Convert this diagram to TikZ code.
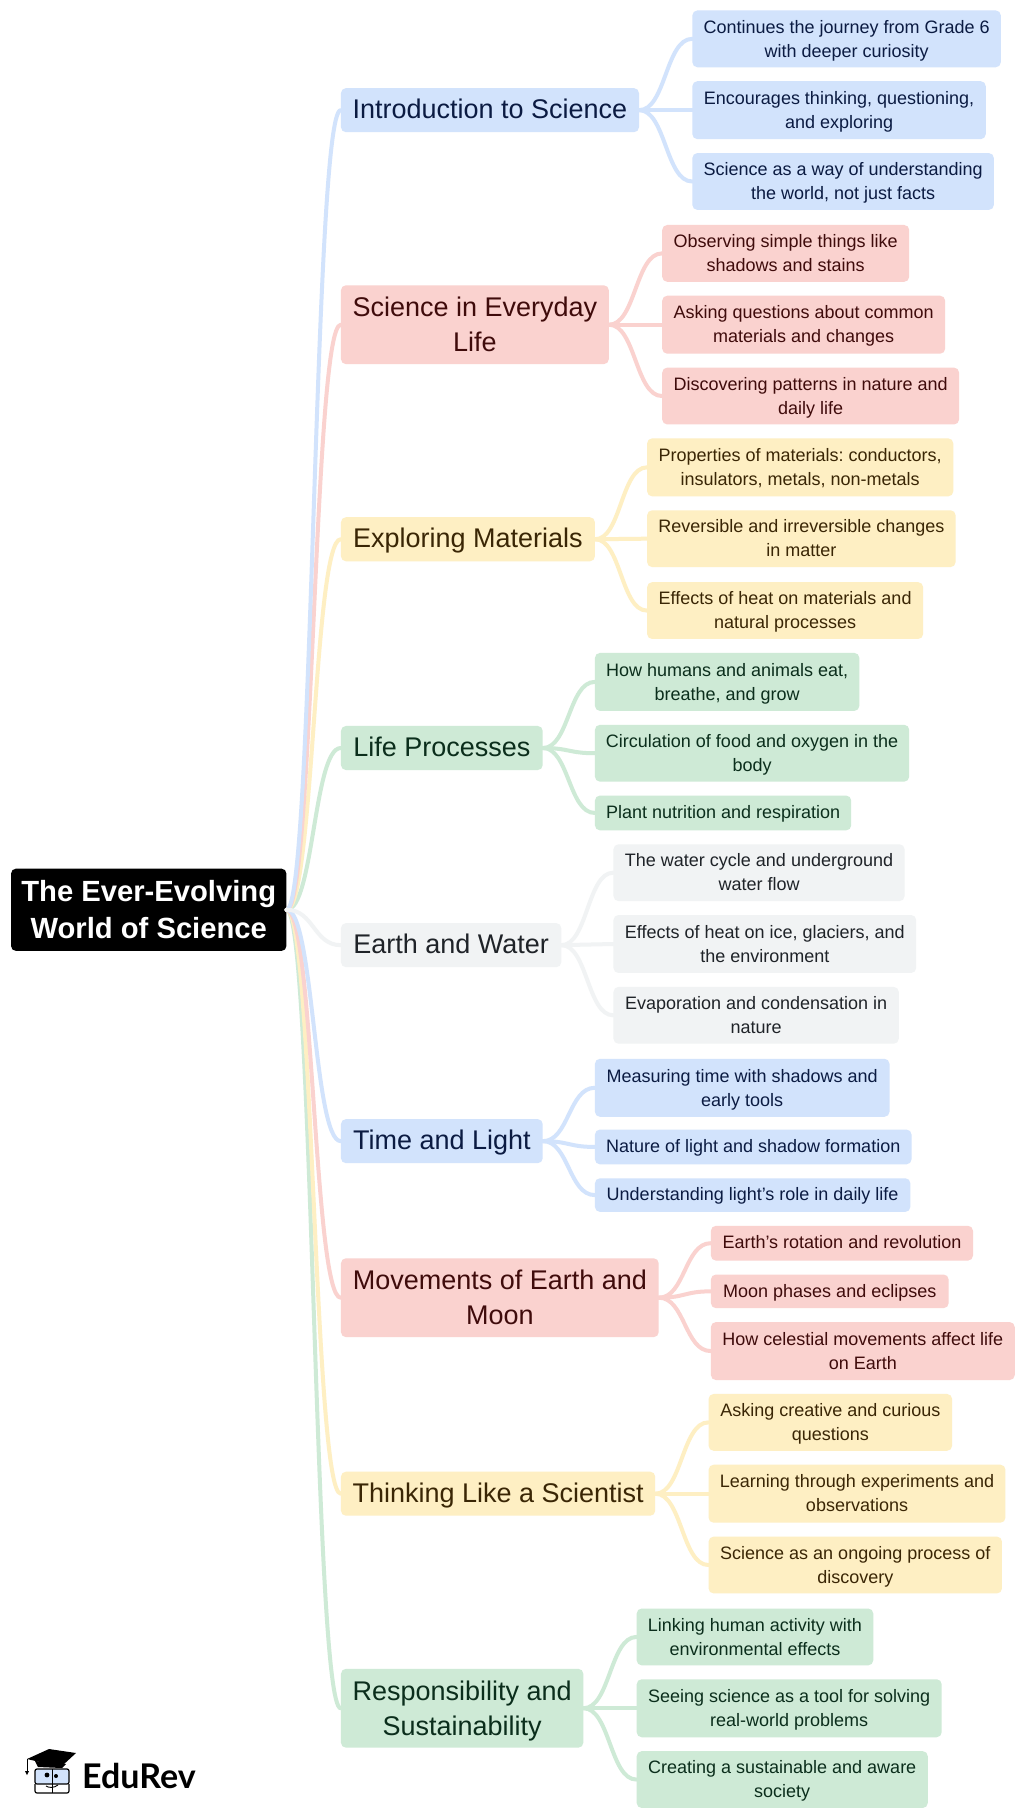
\documentclass[tikz,border=0pt]{standalone}
\usepackage{fontspec}
\setmainfont{Liberation Sans}
\newfontfamily\logofont{Lato}
\usetikzlibrary{calc}
\definecolor{bluebg}{HTML}{D2E3FC}
\definecolor{redbg}{HTML}{FAD2CF}
\definecolor{yelbg}{HTML}{FEEFC3}
\definecolor{grnbg}{HTML}{CEEAD6}
\definecolor{graybg}{HTML}{F1F3F4}
\definecolor{bluetx}{HTML}{0B1B42}
\definecolor{redtx}{HTML}{3F0B0B}
\definecolor{yeltx}{HTML}{3A2605}
\definecolor{grntx}{HTML}{0B2E1C}
\definecolor{graytx}{HTML}{1F2328}
\tikzset{
  card/.style={rectangle,rounded corners=5pt,inner sep=0pt,align=center,anchor=center,
    execute at begin node={\frenchspacing\rule{0pt}{.94em}},
    execute at end node={\rule[-.30em]{0pt}{.30em}}},
  two/.style={execute at begin node={\rule{0pt}{\dimexpr.94em+\baselineskip+.05em\relax}}},
  rootbox/.style={card,two,fill=black,text=white,font=\fontsize{29.2}{37}\selectfont\bfseries},
  branchtx/.style={font=\fontsize{27}{35}\selectfont},
  leaftx/.style={font=\fontsize{18}{24}\selectfont},
  blue/.style={card,fill=bluebg,text=bluetx},
  red/.style={card,fill=redbg,text=redtx},
  yel/.style={card,fill=yelbg,text=yeltx},
  grn/.style={card,fill=grnbg,text=grntx},
  gry/.style={card,fill=graybg,text=graytx},
  link/.style={line width=4pt,line cap=round},
}
% #1 name, #2 style, #3 x0, #4 x1, #5 y0, #6 y1 (in units of the shrunk view), #7 text
\newcommand\cardnode[7]{\node[#2,minimum width={(#4-#3)*1.1597pt},minimum height={(#6-#5)*1.1597pt}] (#1) at ({(#3+#4)/2*1.1597},{(#5+#6)/2*1.1597}) {#7};}
\newcommand\linkit[3]{\draw[link,#1] let \p1=(#2.east),\p2=(#3.west) in (\p1) .. controls ({(\x1+\x2)/2},\y1) and ({(\x1+\x2)/2},\y2) .. (\p2);}
\begin{document}
\begin{tikzpicture}[x=1pt,y=-1pt]
\useasboundingbox (0,0) rectangle (1024,1819);
\fill[white] (0,0) rectangle (1024,1819);
\cardnode{root}{rootbox}{9.5}{247}{749}{820}{The Ever-Evolving\\World of Science}
% branches
\cardnode{b1}{blue,branchtx}{294}{551}{76}{114}{Introduction to Science}
\cardnode{b2}{red,two,branchtx}{294}{525}{246}{314}{Science in Everyday\\Life}
\cardnode{b3}{yel,branchtx}{294}{513}{446}{484}{Exploring Materials}
\cardnode{b4}{grn,branchtx}{294}{468}{626}{664}{Life Processes}
\cardnode{b5}{gry,branchtx}{294}{484}{796}{834}{Earth and Water}
\cardnode{b6}{blue,branchtx}{294}{468}{965}{1003}{Time and Light}
\cardnode{b7}{red,two,branchtx}{294}{568}{1085}{1153}{Movements of Earth and\\Moon}
\cardnode{b8}{yel,branchtx}{294}{565}{1269}{1307}{Thinking Like a Scientist}
\cardnode{b9}{grn,two,branchtx}{294}{503}{1439}{1507}{Responsibility and\\Sustainability}
% leaves
\cardnode{l11}{blue,two,leaftx}{597}{863}{9}{58}{Continues the journey from Grade 6\\with deeper curiosity}
\cardnode{l12}{blue,two,leaftx}{597}{850}{70}{120}{Encourages thinking, questioning,\\and exploring}
\cardnode{l13}{blue,two,leaftx}{597}{857}{132}{181}{Science as a way of understanding\\the world, not just facts}
\cardnode{l21}{red,two,leaftx}{571}{784}{194}{243}{Observing simple things like\\shadows and stains}
\cardnode{l22}{red,two,leaftx}{571}{815}{255}{305}{Asking questions about common\\materials and changes}
\cardnode{l23}{red,two,leaftx}{571}{827}{317}{366}{Discovering patterns in nature and\\daily life}
\cardnode{l31}{yel,two,leaftx}{558}{822}{378}{428}{Properties of materials: conductors,\\insulators, metals, non-metals}
\cardnode{l32}{yel,two,leaftx}{558}{824}{440}{489}{Reversible and irreversible changes\\in matter}
\cardnode{l33}{yel,two,leaftx}{558}{796}{502}{551}{Effects of heat on materials and\\natural processes}
\cardnode{l41}{grn,two,leaftx}{513}{741}{563}{613}{How humans and animals eat,\\breathe, and grow}
\cardnode{l42}{grn,two,leaftx}{513}{784}{625}{674}{Circulation of food and oxygen in the\\body}
\cardnode{l43}{grn,leaftx}{513}{734}{686}{716}{Plant nutrition and respiration}
\cardnode{l51}{gry,two,leaftx}{529}{780}{728}{777}{The water cycle and underground\\water flow}
\cardnode{l52}{gry,two,leaftx}{529}{790}{789}{839}{Effects of heat on ice, glaciers, and\\the environment}
\cardnode{l53}{gry,two,leaftx}{529}{775}{851}{900}{Evaporation and condensation in\\nature}
\cardnode{l61}{blue,two,leaftx}{513}{767}{913}{963}{Measuring time with shadows and\\early tools}
\cardnode{l62}{blue,leaftx}{513}{786}{974}{1004}{Nature of light and shadow formation}
\cardnode{l63}{blue,leaftx}{513}{785}{1016}{1045}{Understanding light’s role in daily life}
\cardnode{l71}{red,leaftx}{613}{839}{1057}{1087}{Earth’s rotation and revolution}
\cardnode{l72}{red,leaftx}{613}{818}{1099}{1128}{Moon phases and eclipses}
\cardnode{l73}{red,two,leaftx}{613}{875}{1140}{1190}{How celestial movements affect life\\on Earth}
\cardnode{l81}{yel,two,leaftx}{611}{821}{1202}{1251}{Asking creative and curious\\questions}
\cardnode{l82}{yel,two,leaftx}{611}{867}{1263}{1313}{Learning through experiments and\\observations}
\cardnode{l83}{yel,two,leaftx}{611}{864}{1325}{1374}{Science as an ongoing process of\\discovery}
\cardnode{l91}{grn,two,leaftx}{549}{753}{1387}{1436}{Linking human activity with\\environmental effects}
\cardnode{l92}{grn,two,leaftx}{549}{812}{1448}{1498}{Seeing science as a tool for solving\\real-world problems}
\cardnode{l93}{grn,two,leaftx}{549}{800}{1510}{1559}{Creating a sustainable and aware\\society}
% connectors
\linkit{grnbg}{root}{b9}
\linkit{yelbg}{root}{b8}
\linkit{redbg}{root}{b7}
\linkit{bluebg}{root}{b6}
\linkit{grnbg}{root}{b4}
\linkit{yelbg}{root}{b3}
\linkit{redbg}{root}{b2}
\linkit{bluebg}{root}{b1}
\linkit{graybg}{root}{b5}
\foreach \i in {1,2,3}{\linkit{bluebg}{b1}{l1\i}\linkit{redbg}{b2}{l2\i}\linkit{yelbg}{b3}{l3\i}\linkit{grnbg}{b4}{l4\i}\linkit{graybg}{b5}{l5\i}\linkit{bluebg}{b6}{l6\i}\linkit{redbg}{b7}{l7\i}\linkit{yelbg}{b8}{l8\i}\linkit{grnbg}{b9}{l9\i}}
% logo: mortarboard
\fill[black] (27,1759) -- (49,1749) -- (76,1753) -- (63,1765) -- (40,1762) -- cycle;
\draw[black,line width=1pt] (27,1759) -- (27,1772);
\fill[black] (25,1771) -- (29,1771) -- (27,1775) -- cycle;
\fill[black] (35,1761) -- (66,1764) -- (62,1768) -- (38,1767) -- cycle;
% logo: book face
\draw[black,line width=1.2pt,fill=bluebg,rounded corners=2pt] (35,1769) rectangle (69,1784);
\draw[black,line width=1.2pt,rounded corners=2pt] (35,1784) -- (35,1793) -- (69,1793) -- (69,1784);
\fill[black] (47,1775) circle (2.4);
\fill[black] (56,1776) circle (2);
\draw[black,line width=1pt] (52,1769) -- (52,1793);
\draw[black,line width=0.9pt] (46,1786) .. controls (49,1788) and (54,1788) .. (58,1785);
\node[anchor=west,inner sep=0pt,font=\logofont\bfseries\fontsize{34}{34}\selectfont,text=black] (logo) at (82,1776) {EduRev};
\end{tikzpicture}
\end{document}
